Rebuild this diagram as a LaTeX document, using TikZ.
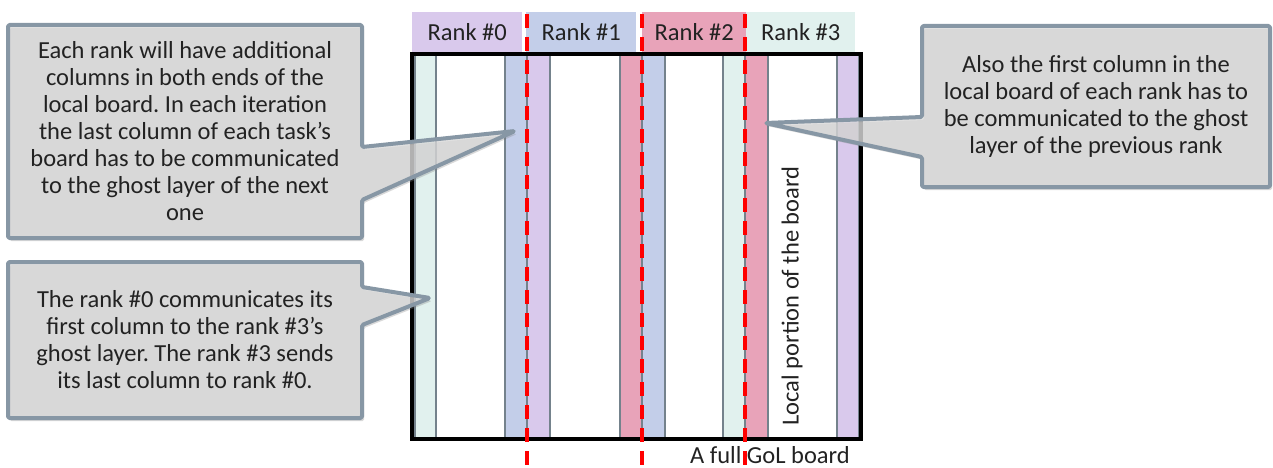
\documentclass[tikz,border=0pt]{standalone}
\usepackage{fontspec}
\setmainfont{Carlito}
\usetikzlibrary{shadows}
\frenchspacing

\definecolor{ghostteal}{HTML}{E1F1EE}
\definecolor{ghostblue}{HTML}{C3CEE9}
\definecolor{ghostpurple}{HTML}{D9C9EC}
\definecolor{ghostpink}{HTML}{E8A3B9}
\definecolor{colline}{HTML}{74828C}
\definecolor{calloutfill}{HTML}{D9D9D9}
\definecolor{calloutedge}{HTML}{8797A5}
\definecolor{inktext}{HTML}{222222}
\definecolor{splitred}{HTML}{FF0000}

\tikzset{
  label22/.style={font=\fontsize{24.5}{27}\selectfont, text=inktext, inner sep=0pt},
  rankhead/.style={label22, minimum height=40pt, anchor=north west},
  column/.style={draw=colline, line width=1.5pt},
  board/.style={draw=black, line width=3.8pt},
  splitline/.style={draw=splitred, line width=3.3pt, dash pattern=on 14pt off 9pt},
  callout/.style={draw=calloutedge, fill=calloutfill, fill opacity=0.78,
    line width=4pt, line join=round, rounded corners=1.5pt,
    drop shadow={opacity=0.3, shadow xshift=2pt, shadow yshift=-3pt}},
  callouttext/.style={label22, align=center}
}

\begin{document}
\begin{tikzpicture}[x=1pt, y=-1pt]
\useasboundingbox (0,0) rectangle (1273,468);

% rank headers
\node[rankhead, fill=ghostpurple, minimum width=110pt] (h0) at (412,12) {Rank \#0};
\node[rankhead, fill=ghostblue,   minimum width=110pt] (h1) at (526,12) {Rank \#1};
\node[rankhead, fill=ghostpink,   minimum width=104pt] (h2) at (642,12) {Rank \#2};
\node[rankhead, fill=ghostteal,   minimum width=109pt] (h3) at (746,12) {Rank \#3};

% ghost and boundary columns of the board
\path[column, fill=ghostteal]   (415,55) rectangle (436,438);
\path[column, fill=ghostblue]   (505,55) rectangle (527,438);
\path[column, fill=ghostpurple] (527,55) rectangle (550,438);
\path[column, fill=ghostpink]   (620,55) rectangle (642,438);
\path[column, fill=ghostblue]   (642,55) rectangle (665,438);
\path[column, fill=ghostteal]   (723,55) rectangle (745,438);
\path[column, fill=ghostpink]   (745,55) rectangle (768,438);
\path[column, fill=ghostpurple] (837,55) rectangle (859,438);

% full board outline
\draw[board] (412,54) rectangle (861,439);

% partition boundaries between ranks
\coordinate (s1a) at (527,14);  \coordinate (s1b) at (527,468);
\coordinate (s2a) at (642,14);  \coordinate (s2b) at (642,468);
\coordinate (s3a) at (745,14);  \coordinate (s3b) at (745,468);
\draw[splitline] (s1a) -- (s1b);
\draw[splitline] (s2a) -- (s2b);
\draw[splitline] (s3a) -- (s3b);

% board labels
\node[label22, rotate=90] (local) at (792,296) {Local portion of the board};
\node[label22] (full) at (770,455) {A full GoL board};

% callout pointer tips
\coordinate (tipA) at (515,131);
\coordinate (tipB) at (430,298);
\coordinate (tipC) at (765,123);

% callouts
\path[callout] (8,25) -- (362,25) -- (362,147) -- (tipA) -- (362,200)
  -- (362,238) -- (8,238) -- cycle;
\node[callouttext] (noteA) at (185,131) {Each rank will have additional\\
  columns in both ends of the\\ local board. In each iteration\\
  the last column of each task’s\\ board has to be communicated\\
  to the ghost layer of the next\\ one};

\path[callout] (8,262) -- (362,262) -- (362,287) -- (tipB) -- (362,325)
  -- (362,418) -- (8,418) -- cycle;
\node[callouttext] (noteB) at (185,340) {The rank \#0 communicates its\\
  first column to the rank \#3’s\\ ghost layer. The rank \#3 sends\\
  its last column to rank \#0.};

\path[callout] (922,26) -- (1270,26) -- (1270,187) -- (922,187) -- (922,157)
  -- (tipC) -- (922,117) -- cycle;
\node[callouttext] (noteC) at (1096,106) {Also the first column in the\\
  local board of each rank has to\\ be communicated to the ghost\\
  layer of the previous rank};
\end{tikzpicture}
\end{document}
